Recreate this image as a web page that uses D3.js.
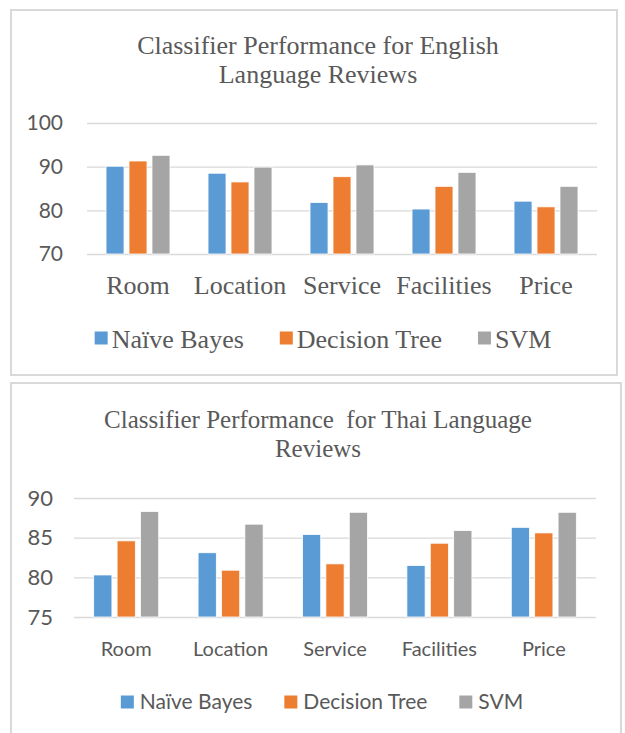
<!DOCTYPE html>
<html>
<head>
<meta charset="utf-8">
<script src="https://cdn.jsdelivr.net/npm/d3@7"></script>
<style>
  html, body { margin: 0; padding: 0; background: #fff; }
  svg { display: block; }
</style>
</head>
<body>
<svg width="625" height="733"></svg>
<script>
const categories = ['Room', 'Location', 'Service', 'Facilities', 'Price'];
const seriesNames = ['Naïve Bayes', 'Decision Tree', 'SVM'];
const colors = ['#5B9BD5', '#ED7D31', '#A5A5A5'];

// English reviews
const englishNB = [90.1, 88.5, 81.8, 80.3, 82.1];
const englishDT = [91.3, 86.5, 87.7, 85.5, 80.8];
const englishSVM = [92.6, 89.9, 90.4, 88.7, 85.5];
const englishTicks = [70, 80, 90, 100];

// Thai reviews
const thaiNB = [80.3, 83.1, 85.4, 81.5, 86.3];
const thaiDT = [84.6, 80.9, 81.7, 84.3, 85.6];
const thaiSVM = [88.3, 86.7, 88.2, 85.9, 88.2];
const thaiTicks = [75, 80, 85, 90];

const svg = d3.select('svg');
const textColor = '#595959';
const serif = '"Liberation Serif", "Times New Roman", serif';
const sans = 'Lato, "Open Sans", sans-serif';

function drawPanel(opt) {
    const g = svg.append('g');

    g.append('rect')
        .attr('x', opt.box[0]).attr('y', opt.box[1])
        .attr('width', opt.box[2]).attr('height', opt.box[3])
        .attr('fill', '#fff')
        .attr('stroke', '#D9D9D9')
        .attr('stroke-width', 2);

    g.append('text')
        .attr('x', opt.titleX)
        .attr('y', opt.titleY)
        .attr('text-anchor', 'middle')
        .attr('fill', textColor)
        .style('font-family', serif)
        .style('font-size', opt.titleSize + 'px')
        .style('white-space', 'pre')
        .selectAll('tspan')
        .data(opt.title)
        .enter().append('tspan')
        .attr('x', opt.titleX)
        .attr('dy', (d, i) => i === 0 ? 0 : 29)
        .text(d => d);

    const y = d3.scaleLinear().domain(opt.domain).range(opt.yRange);
    const x0 = d3.scaleBand().domain(categories).range(opt.xRange)
        .paddingInner(opt.padInner).paddingOuter(opt.padInner / 2);
    const x1 = d3.scaleBand().domain(seriesNames).range([0, x0.bandwidth()])
        .paddingInner(opt.barGap);

    const yAxis = g.append('g')
        .attr('transform', `translate(${opt.xRange[0]},0)`)
        .call(d3.axisLeft(y).tickValues(opt.ticks)
            .tickSize(-(opt.xRange[1] - opt.xRange[0]))
            .tickPadding(opt.yLabelPad)
            .tickFormat(d3.format('d')));
    yAxis.select('.domain').remove();
    yAxis.selectAll('line').attr('stroke', '#D9D9D9').attr('stroke-width', 1.3);
    yAxis.selectAll('text')
        .attr('fill', textColor)
        .style('font-family', sans)
        .style('font-size', opt.yFontSize + 'px');

    const rows = categories.map((c, i) => ({
        cat: c,
        vals: opt.series.map((s, j) => ({name: seriesNames[j], value: s[i], color: colors[j]}))
    }));

    g.append('g')
        .selectAll('g')
        .data(rows)
        .enter().append('g')
        .attr('transform', d => `translate(${x0(d.cat)},0)`)
        .selectAll('rect')
        .data(d => d.vals)
        .enter().append('rect')
        .attr('x', d => x1(d.name))
        .attr('width', x1.bandwidth())
        .attr('y', d => y(d.value))
        .attr('height', d => y(opt.domain[0]) - y(d.value))
        .attr('fill', d => d.color)
        .attr('stroke', '#fff')
        .attr('stroke-width', 0.8);

    g.append('g')
        .selectAll('text')
        .data(categories)
        .enter().append('text')
        .attr('x', d => x0(d) + x0.bandwidth() / 2)
        .attr('y', opt.catY)
        .attr('text-anchor', 'middle')
        .attr('fill', textColor)
        .style('font-family', opt.catFont)
        .style('font-size', opt.catSize + 'px')
        .text(d => d);

    // legend, laid out by measured text widths and centred
    const leg = g.append('g');
    const items = leg.selectAll('g')
        .data(seriesNames)
        .enter().append('g');
    items.append('rect')
        .attr('width', opt.sw).attr('height', opt.sw)
        .attr('y', opt.legY - opt.sw / 2 - opt.swShift)
        .attr('fill', (d, i) => colors[i]);
    items.append('text')
        .attr('x', opt.sw + opt.swGap)
        .attr('y', opt.legY)
        .attr('dy', '0.35em')
        .attr('fill', textColor)
        .style('font-family', opt.catFont)
        .style('font-size', opt.legSize + 'px')
        .text(d => d);
    let offset = 0;
    const widths = [];
    items.each(function () {
        widths.push(opt.sw + opt.swGap + d3.select(this).select('text').node().getComputedTextLength());
    });
    const total = d3.sum(widths) + opt.itemGap * (widths.length - 1);
    const start = opt.legCx - total / 2;
    items.attr('transform', (d, i) => {
        const tx = start + offset;
        offset += widths[i] + opt.itemGap;
        return `translate(${tx},0)`;
    });
}

drawPanel({
    box: [11, 10, 606, 365],
    title: ['Classifier Performance for English', 'Language Reviews'],
    titleX: 318, titleY: 54, titleSize: 26,
    series: [englishNB, englishDT, englishSVM],
    domain: [70, 100], ticks: englishTicks, yRange: [254, 123],
    xRange: [87, 597], padInner: 0.373, barGap: 0.217,
    yLabelPad: 24, yFontSize: 21,
    catY: 294, catFont: serif, catSize: 26,
    legY: 339, legCx: 323, legSize: 26, sw: 13, swGap: 4, swShift: 1, itemGap: 36
});

drawPanel({
    box: [11, 383, 610, 360],
    title: ['Classifier Performance  for Thai Language', 'Reviews'],
    titleX: 318, titleY: 428, titleSize: 25,
    series: [thaiNB, thaiDT, thaiSVM],
    domain: [75, 90], ticks: thaiTicks, yRange: [617, 498],
    xRange: [74, 596], padInner: 0.377, barGap: 0.22,
    yLabelPad: 21, yFontSize: 22,
    catY: 656, catFont: sans, catSize: 20,
    legY: 702, legCx: 322, legSize: 21, sw: 13, swGap: 6, swShift: 0, itemGap: 32
});
</script>
</body>
</html>
